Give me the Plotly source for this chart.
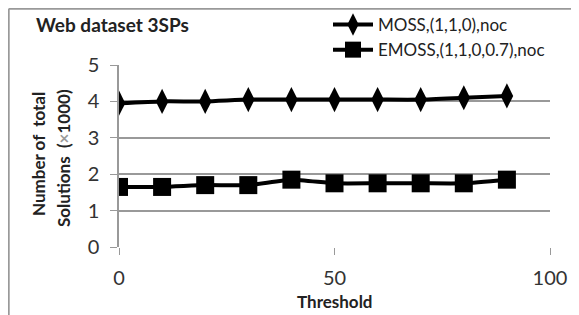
import plotly.graph_objects as go

thresholds = [0, 10, 20, 30, 40, 50, 60, 70, 80, 90]
moss = [3.95, 4.0, 4.0, 4.05, 4.05, 4.05, 4.05, 4.05, 4.1, 4.15]
emoss = [1.65, 1.65, 1.7, 1.7, 1.85, 1.75, 1.75, 1.75, 1.75, 1.85]
series_names = ["MOSS,(1,1,0),noc", "EMOSS,(1,1,0,0.7),noc"]
y_ticks = [0, 1, 2, 3, 4, 5]
x_ticks = [0, 50, 100]

FONT = "Lato"
OFF = 8  # page body margin
W, H = 579 - OFF, 315 - OFF
L, R, T, B = 119 - OFF, 29, 65 - OFF, 68
PW, PH = W - L - R, H - T - B


def px(x):  # window pixel -> paper
    return (x - OFF - L) / PW


def py(y):
    return (H - B - (y - OFF)) / PH


fig = go.Figure()
fig.add_trace(go.Scatter(
    x=thresholds, y=moss, name=series_names[0], mode="lines+markers",
    line=dict(color="black", width=4, shape="spline", smoothing=0.5),
    marker=dict(symbol="diamond-tall", size=18, color="black"),
))
fig.add_trace(go.Scatter(
    x=thresholds, y=emoss, name=series_names[1], mode="lines+markers",
    line=dict(color="black", width=4, shape="spline", smoothing=0.5),
    marker=dict(symbol="square", size=18, color="black"),
))

fig.update_layout(
    width=W, height=H,
    margin=dict(l=L, r=R, t=T, b=B, autoexpand=False),
    paper_bgcolor="white", plot_bgcolor="white",
    font=dict(family=FONT, color="#222", size=16),
    showlegend=True,
    legend=dict(x=px(328), xanchor="left", y=py(7), yanchor="top",
                font=dict(family=FONT, size=17, color="#222"),
                bgcolor="rgba(0,0,0,0)", tracegroupgap=0, itemwidth=40),
    xaxis=dict(range=[0, 100], tickvals=x_ticks, showgrid=False, zeroline=False,
               showline=False, ticks="outside", ticklen=7, tickcolor="#999",
               tickfont=dict(size=20, family=FONT, color="#333"), ticklabelstandoff=6,
               automargin=False),
    yaxis=dict(range=[0, 5], tickvals=y_ticks, showgrid=True, gridcolor="#999",
               gridwidth=1.5, zeroline=False, showline=True, linecolor="#999",
               linewidth=1.5, ticks="outside", ticklen=7, tickcolor="#999",
               tickfont=dict(size=20, family=FONT, color="#333"), ticklabelstandoff=7,
               automargin=False),
)

# axis titles
fig.add_annotation(text="<b>Threshold</b>", xref="paper", yref="paper",
                   x=0.5, y=py(301), xanchor="center", yanchor="middle", showarrow=False,
                   font=dict(size=17, family=FONT, color="#222"))
fig.add_annotation(text="<b>Number of  total</b>", xref="paper", yref="paper",
                   x=px(38), y=py(154), xanchor="center", yanchor="middle", showarrow=False,
                   textangle=-90, font=dict(size=17, family=FONT, color="#222"))
fig.add_annotation(text="<b>Solutions  (<span style='color:#999'>×</span>1000)</b>",
                   xref="paper", yref="paper",
                   x=px(63), y=py(158), xanchor="center", yanchor="middle", showarrow=False,
                   textangle=-90, font=dict(size=17, family=FONT, color="#222"))

fig.add_annotation(text="<b>Web dataset 3SPs</b>", xref="paper", yref="paper",
                   x=px(34), y=py(25), xanchor="left", yanchor="middle", showarrow=False,
                   font=dict(size=19, family=FONT, color="#222"))
# frame
fig.add_shape(type="line", xref="paper", yref="paper", x0=px(8.7), x1=px(600), y0=py(8.7), y1=py(8.7),
              line=dict(color="#999", width=2))
fig.add_shape(type="line", xref="paper", yref="paper", x0=px(8.7), x1=px(8.7), y0=py(340), y1=py(8.7),
              line=dict(color="#999", width=2))

fig.write_html("out.html")
